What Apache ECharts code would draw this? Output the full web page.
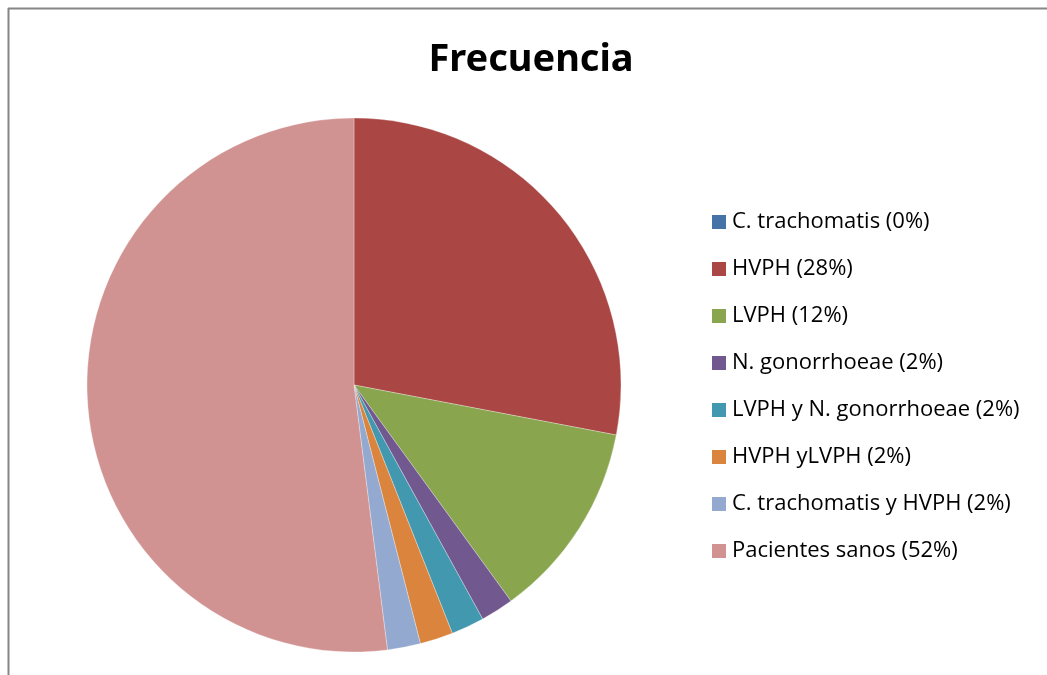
<!DOCTYPE html>
<html>
<head>
<meta charset="utf-8">
<script src="https://cdn.jsdelivr.net/npm/echarts@6/dist/echarts.min.js"></script>
<style>
  html, body { margin: 0; padding: 0; background: #fff; }
  #main { width: 1047px; height: 675px; }
</style>
</head>
<body>
<div id="main"></div>
<script>
var categories = [
  'C. trachomatis',
  'HVPH',
  'LVPH',
  'N. gonorrhoeae',
  'LVPH y N. gonorrhoeae',
  'HVPH yLVPH',
  'C. trachomatis y HVPH',
  'Pacientes sanos'
];
var counts = [0, 14, 6, 1, 1, 1, 1, 26];
var colors = ['#4572A7', '#AA4643', '#89A54E', '#71588F', '#4198AF', '#DB843D', '#93A9CF', '#D19392'];

var total = counts.reduce((a, b) => a + b, 0);
var labels = categories.map((c, i) => `${c} (${Math.round(counts[i] / total * 100)}%)`);

var chart = echarts.init(document.getElementById('main'));
chart.setOption({
  backgroundColor: '#fff',
  color: colors,
  animation: false,
  title: {
    text: 'Frecuencia',
    left: 531,
    top: 41,
    padding: 0,
    textAlign: 'center',
    textStyle: {
      fontFamily: 'Noto Sans',
      fontWeight: 'bold',
      fontSize: 38,
      color: '#000'
    }
  },
  legend: {
    orient: 'vertical',
    left: 712,
    top: 210,
    padding: 0,
    itemWidth: 14,
    itemHeight: 14,
    itemGap: 23,
    icon: 'rect',
    itemStyle: { borderWidth: 0 },
    data: labels,
    textStyle: {
      fontFamily: 'Open Sans',
      fontSize: 22,
      lineHeight: 24,
      color: '#000',
      padding: [0, 0, 0, 1]
    }
  },
  graphic: [
    { type: 'line', shape: { x1: 8, y1: 8.5, x2: 1047, y2: 8.5 }, style: { stroke: '#868686', lineWidth: 2 } },
    { type: 'line', shape: { x1: 8.5, y1: 8, x2: 8.5, y2: 675 }, style: { stroke: '#868686', lineWidth: 2 } }
  ],
  series: [{
    type: 'pie',
    center: [354, 385],
    radius: 267,
    startAngle: 90,
    clockwise: true,
    label: { show: false },
    labelLine: { show: false },
    emphasis: { disabled: true },
    itemStyle: { borderColor: '#fff', borderWidth: 0.3 },
    data: labels.map((l, i) => ({ name: l, value: counts[i] }))
  }]
});
</script>
</body>
</html>
